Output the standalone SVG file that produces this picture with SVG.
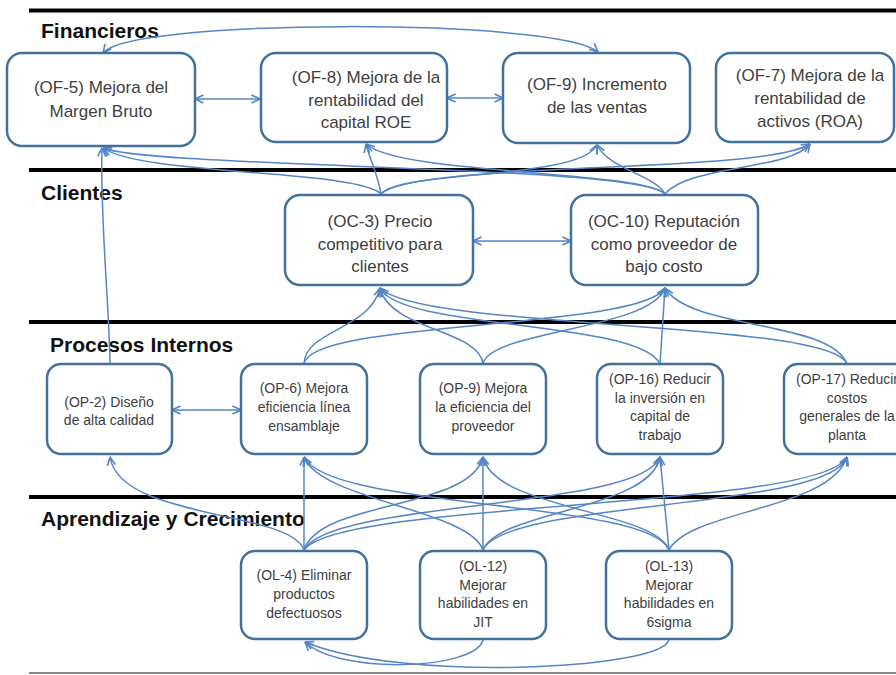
<svg xmlns="http://www.w3.org/2000/svg" width="896" height="675" viewBox="0 0 896 675">
<defs>
<marker id="arr" viewBox="0 0 10 10" refX="9.5" refY="5" markerWidth="10" markerHeight="10" markerUnits="userSpaceOnUse" orient="auto-start-reverse">
<path d="M1,1 L9.5,5 L1,9" fill="none" stroke="#5585C5" stroke-width="1.6"/>
</marker>
</defs>
<style>
.rule{stroke:#000;stroke-width:4}
.title{font-family:"Liberation Sans",Arial,sans-serif;font-weight:bold;font-size:21px;fill:#111}
.box{fill:#fff;stroke:#41719C;stroke-width:2.5}
.t1{font-family:"Liberation Sans",Arial,sans-serif;font-size:17px;fill:#404040;text-anchor:middle}
.t2{font-family:"Liberation Sans",Arial,sans-serif;font-size:14px;fill:#404040;text-anchor:middle}
.c{fill:none;stroke:#5585C5;stroke-width:1.5;marker-end:url(#arr)}
.d{fill:none;stroke:#5585C5;stroke-width:1.5;marker-end:url(#arr);marker-start:url(#arr)}
</style>
<rect width="896" height="675" fill="#fff"/>
<g id="rules">
<line class="rule" x1="29" y1="10.5" x2="896" y2="10.5"/>
<line class="rule" x1="29" y1="170" x2="896" y2="170"/>
<line class="rule" x1="29" y1="322" x2="896" y2="322"/>
<line class="rule" x1="29" y1="497" x2="896" y2="497"/>
<line x1="29" y1="673" x2="896" y2="673" stroke="#888" stroke-width="2"/>
</g>
<g id="titles">
<text class="title" x="41" y="38">Financieros</text>
<text class="title" x="41" y="200">Clientes</text>
<text class="title" x="50" y="352">Procesos Internos</text>
<text class="title" x="41" y="526">Aprendizaje y Crecimiento</text>
</g>
<g id="connectors">
<path class="d" d="M103,53 C130,18 560,18 598,52"/>
<path class="d" d="M195,99 L260,99"/>
<path class="d" d="M447,98 L503,98"/>
<path class="d" d="M473,241 L571,241"/>
<path class="d" d="M172,410 L241,410"/>
<path class="c" d="M110,364 C109,300 100,220 102,148"/>
<path class="c" d="M381,194 C360,170 140,175 103,148"/>
<path class="c" d="M665,194 C640,165 150,168 103,148"/>
<path class="c" d="M381,194 C378,175 370,160 366,144"/>
<path class="c" d="M665,194 C640,170 400,175 366,144"/>
<path class="c" d="M381,194 C400,170 580,180 597,145"/>
<path class="c" d="M665,194 C655,175 610,170 597,145"/>
<path class="c" d="M381,194 C420,160 760,175 810,144"/>
<path class="c" d="M665,194 C690,165 790,170 810,144"/>
<path class="c" d="M304,364 C305,330 370,330 380,288"/>
<path class="c" d="M304,364 C310,320 640,330 665,288"/>
<path class="c" d="M483,364 C480,330 390,330 380,288"/>
<path class="c" d="M483,364 C490,330 650,330 665,288"/>
<path class="c" d="M660,364 C640,320 400,330 380,288"/>
<path class="c" d="M660,364 L665,288"/>
<path class="c" d="M847,364 C830,320 420,330 380,288"/>
<path class="c" d="M847,364 C830,320 690,330 665,288"/>
<path class="c" d="M304,550 C290,510 120,520 110,457"/>
<path class="c" d="M304,550 L304,457"/>
<path class="c" d="M304,550 C320,500 470,510 483,457"/>
<path class="c" d="M304,550 C330,500 640,510 660,457"/>
<path class="c" d="M304,550 C340,500 820,510 847,457"/>
<path class="c" d="M483,550 C470,510 320,500 304,457"/>
<path class="c" d="M483,550 L483,457"/>
<path class="c" d="M483,550 C500,510 650,510 660,457"/>
<path class="c" d="M483,550 C505,500 830,510 847,457"/>
<path class="c" d="M669,550 C650,500 330,510 304,457"/>
<path class="c" d="M669,550 C655,510 495,510 483,457"/>
<path class="c" d="M669,550 L660,457"/>
<path class="c" d="M669,550 C690,510 830,510 847,457"/>
<path class="c" d="M483,640 C475,670 340,675 305,642"/>
<path class="c" d="M669,640 C660,670 400,682 305,642"/>
</g>
<g id="OF-5">
<rect class="box" x="7" y="53" width="188" height="93" rx="15"/>
<text class="t1" x="101" y="93">(OF-5) Mejora del</text>
<text class="t1" x="101" y="117">Margen Bruto</text>
</g>
<g id="OF-8">
<rect class="box" x="261" y="53" width="186" height="89" rx="15"/>
<text class="t1" x="366" y="83">(OF-8) Mejora de la</text>
<text class="t1" x="366" y="106">rentabilidad del</text>
<text class="t1" x="366" y="128">capital ROE</text>
</g>
<g id="OF-9">
<rect class="box" x="503" y="53" width="187" height="90" rx="15"/>
<text class="t1" x="597" y="90">(OF-9) Incremento</text>
<text class="t1" x="597" y="113">de las ventas</text>
</g>
<g id="OF-7">
<rect class="box" x="716" y="53" width="178" height="89" rx="15"/>
<text class="t1" x="810" y="81">(OF-7) Mejora de la</text>
<text class="t1" x="810" y="104">rentabilidad de</text>
<text class="t1" x="810" y="127">activos (ROA)</text>
</g>
<g id="OC-3">
<rect class="box" x="285" y="195" width="188" height="90" rx="15"/>
<text class="t1" x="380" y="227">(OC-3) Precio</text>
<text class="t1" x="380" y="250">competitivo para</text>
<text class="t1" x="380" y="272">clientes</text>
</g>
<g id="OC-10">
<rect class="box" x="571" y="195" width="187" height="90" rx="15"/>
<text class="t1" x="664" y="227">(OC-10) Reputación</text>
<text class="t1" x="664" y="250">como proveedor de</text>
<text class="t1" x="664" y="272">bajo costo</text>
</g>
<g id="OP-2">
<rect class="box" x="47" y="364" width="125" height="90" rx="14"/>
<text class="t2" x="109" y="407">(OP-2) Diseño</text>
<text class="t2" x="109" y="425">de alta calidad</text>
</g>
<g id="OP-6">
<rect class="box" x="241" y="364" width="126" height="90" rx="14"/>
<text class="t2" x="304" y="393">(OP-6) Mejora</text>
<text class="t2" x="304" y="412">eficiencia línea</text>
<text class="t2" x="304" y="431">ensamblaje</text>
</g>
<g id="OP-9">
<rect class="box" x="420" y="364" width="126" height="90" rx="14"/>
<text class="t2" x="483" y="393">(OP-9) Mejora</text>
<text class="t2" x="483" y="412">la eficiencia del</text>
<text class="t2" x="483" y="431">proveedor</text>
</g>
<g id="OP-16">
<rect class="box" x="597" y="364" width="126" height="90" rx="14"/>
<text class="t2" x="660" y="384">(OP-16) Reducir</text>
<text class="t2" x="660" y="403">la inversión en</text>
<text class="t2" x="660" y="421">capital de</text>
<text class="t2" x="660" y="440">trabajo</text>
</g>
<g id="OP-17">
<rect class="box" x="784" y="364" width="126" height="90" rx="14"/>
<text class="t2" x="847" y="384">(OP-17) Reducir</text>
<text class="t2" x="847" y="403">costos</text>
<text class="t2" x="847" y="421">generales de la</text>
<text class="t2" x="847" y="440">planta</text>
</g>
<g id="OL-4">
<rect class="box" x="241" y="551" width="126" height="88" rx="14"/>
<text class="t2" x="304" y="580">(OL-4) Eliminar</text>
<text class="t2" x="304" y="599">productos</text>
<text class="t2" x="304" y="618">defectuosos</text>
</g>
<g id="OL-12">
<rect class="box" x="420" y="551" width="126" height="88" rx="14"/>
<text class="t2" x="483" y="571">(OL-12)</text>
<text class="t2" x="483" y="590">Mejorar</text>
<text class="t2" x="483" y="608">habilidades en</text>
<text class="t2" x="483" y="627">JIT</text>
</g>
<g id="OL-13">
<rect class="box" x="606" y="551" width="126" height="88" rx="14"/>
<text class="t2" x="669" y="571">(OL-13)</text>
<text class="t2" x="669" y="590">Mejorar</text>
<text class="t2" x="669" y="608">habilidades en</text>
<text class="t2" x="669" y="627">6sigma</text>
</g>
</svg>
